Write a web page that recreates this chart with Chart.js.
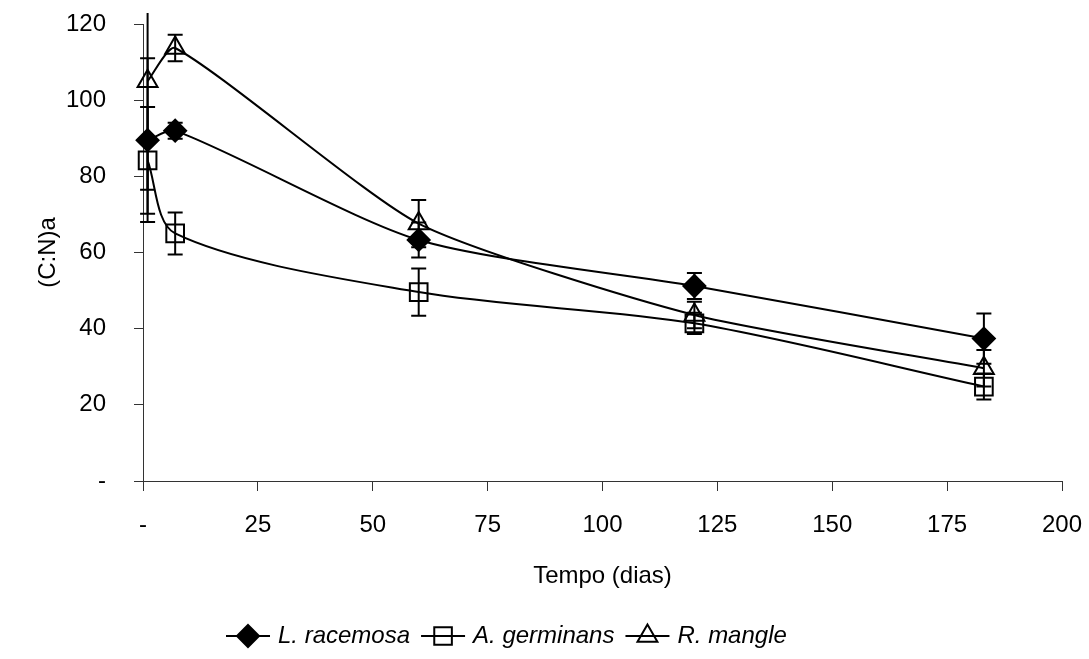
<!DOCTYPE html>
<html>
<head>
<meta charset="utf-8">
<script src="https://cdn.jsdelivr.net/npm/chart.js@4/dist/chart.umd.min.js"></script>
<style>
  html, body { margin: 0; padding: 0; background: #fff; }
  #wrap { width: 1089px; height: 659px; position: relative; }
</style>
</head>
<body>
<div id="wrap"><canvas id="c" width="1089" height="659"></canvas></div>
<script>
// Sampling days and (C:N)a ratios per species, with error half-widths
const days = [1, 7, 60, 120, 183];
const racemosa = [89.5, 92, 63.3, 51.2, 37.4];
const racemosaErr = [21.5, 2.1, 4.6, 3.4, 6.6];
const germinans = [84.2, 65, 49.6, 41.4, 24.8];
const germinansErr = [14, 5.5, 6.2, 2.8, 3.4];
const mangle = [105, 113.7, 67.6, 43.6, 29.6];
const mangleErr = [28.5, 3.5, 6.2, 3.5, 4.8];

const seriesNames = ['L. racemosa', 'A. germinans', 'R. mangle'];
const xTicks = [0, 25, 50, 75, 100, 125, 150, 175, 200];
const yTicks = [0, 20, 40, 60, 80, 100, 120];

const FONT = '"Liberation Sans", Arial, sans-serif';
const AXIS = '#333';

function pts(vals) { return days.map((d, i) => ({ x: d, y: vals[i] })); }

const styles = [
  { pointStyle: 'rectRot', radius: 11, fill: '#000', tension: 0.25 },
  { pointStyle: 'rect', radius: 12.5, fill: 'rgba(0,0,0,0)', tension: 0.3 },
  { pointStyle: 'triangle', radius: 11.5, fill: 'rgba(0,0,0,0)', tension: 0.2 }
];
const values = [racemosa, germinans, mangle];
const errors = [racemosaErr, germinansErr, mangleErr];

const datasets = values.map((v, i) => ({
  label: seriesNames[i],
  data: pts(v),
  errors: errors[i],
  borderColor: '#000',
  borderWidth: 2,
  tension: styles[i].tension,
  fill: false,
  clip: false,
  pointStyle: styles[i].pointStyle,
  pointRadius: styles[i].radius,
  pointHoverRadius: styles[i].radius,
  pointBackgroundColor: styles[i].fill,
  pointBorderColor: '#000',
  pointBorderWidth: 2
}));

// Vertical error bars with caps, drawn from each dataset's own scale values
const errorBars = {
  id: 'errorBars',
  afterDatasetsDraw(chart) {
    const { ctx, chartArea, scales: { x, y } } = chart;
    ctx.save();
    ctx.beginPath();
    ctx.rect(chartArea.left - 20, chartArea.top - 11, chartArea.right - chartArea.left + 40, chartArea.bottom - chartArea.top + 30);
    ctx.clip();
    ctx.strokeStyle = '#000';
    ctx.lineWidth = 2;
    chart.data.datasets.forEach(ds => {
      ds.data.forEach((p, i) => {
        const e = ds.errors[i];
        const px = x.getPixelForValue(p.x);
        const yTop = y.getPixelForValue(p.y + e);
        const yBot = y.getPixelForValue(p.y - e);
        ctx.beginPath();
        ctx.moveTo(px, yTop); ctx.lineTo(px, yBot);
        ctx.moveTo(px - 7.5, yTop); ctx.lineTo(px + 7.5, yTop);
        ctx.moveTo(px - 7.5, yBot); ctx.lineTo(px + 7.5, yBot);
        ctx.stroke();
      });
    });
    ctx.restore();
  }
};

function drawMarker(ctx, style, cx, cy) {
  ctx.beginPath();
  if (style === 'rectRot') {
    const r = 11;
    ctx.moveTo(cx, cy - r); ctx.lineTo(cx + r, cy); ctx.lineTo(cx, cy + r); ctx.lineTo(cx - r, cy);
    ctx.closePath();
    ctx.fillStyle = '#000'; ctx.fill(); ctx.stroke();
  } else if (style === 'rect') {
    const h = 8.8;
    ctx.rect(cx - h, cy - h, 2 * h, 2 * h);
    ctx.stroke();
  } else {
    const r = 11.5;
    ctx.moveTo(cx, cy - r);
    ctx.lineTo(cx + r * Math.cos(Math.PI / 6), cy + r / 2);
    ctx.lineTo(cx - r * Math.cos(Math.PI / 6), cy + r / 2);
    ctx.closePath();
    ctx.stroke();
  }
}

// Legend row under the axis title: line + marker, then italic species name
const legendRow = {
  id: 'legendRow',
  afterDraw(chart) {
    const ctx = chart.ctx;
    ctx.save();
    ctx.font = 'italic 24px ' + FONT;
    ctx.textBaseline = 'middle';
    ctx.textAlign = 'left';
    ctx.strokeStyle = '#000';
    ctx.fillStyle = '#000';
    ctx.lineWidth = 2;
    const yRow = 636;
    let xPos = 226;
    chart.data.datasets.forEach((ds, i) => {
      ctx.beginPath();
      ctx.moveTo(xPos, yRow); ctx.lineTo(xPos + 44, yRow);
      ctx.stroke();
      drawMarker(ctx, styles[i].pointStyle, xPos + 22, yRow);
      ctx.fillStyle = '#000';
      const tx = xPos + 52;
      ctx.fillText(ds.label, tx, yRow);
      xPos = tx + ctx.measureText(ds.label).width + 11;
    });
    ctx.restore();
  }
};

const tickFont = { family: FONT, size: 24 };

new Chart(document.getElementById('c'), {
  type: 'line',
  data: { datasets },
  plugins: [errorBars, legendRow],
  options: {
    responsive: false,
    animation: false,
    events: [],
    layout: { padding: { top: 24, right: 27, left: 0, bottom: 0 } },
    plugins: { legend: { display: false }, tooltip: { enabled: false } },
    scales: {
      x: {
        type: 'linear',
        min: 0, max: 200,
        afterBuildTicks(s) { s.ticks = xTicks.map(v => ({ value: v })); },
        afterFit(s) { s.height = 178; s.paddingLeft = 0; s.paddingRight = 0; },
        ticks: {
          color: '#000', font: tickFont, padding: 20, maxRotation: 0,
          callback: v => (v === 0 ? '-' : String(v))
        },
        grid: { drawOnChartArea: false, drawTicks: true, tickLength: 10, color: AXIS, lineWidth: 1 },
        border: { display: true, color: AXIS, width: 1 },
        title: {
          display: true, text: 'Tempo (dias)', color: '#000',
          font: { family: FONT, size: 24 }, padding: { top: 0, bottom: 68 }
        }
      },
      y: {
        type: 'linear',
        min: 0, max: 120,
        afterBuildTicks(s) { s.ticks = yTicks.map(v => ({ value: v })); },
        afterFit(s) { s.width = 143; s.paddingTop = 0; s.paddingBottom = 0; },
        ticks: {
          color: '#000', font: tickFont, padding: 28,
          callback: v => (v === 0 ? '-' : String(v))
        },
        grid: { drawOnChartArea: false, drawTicks: true, tickLength: 9, color: AXIS, lineWidth: 1 },
        border: { display: true, color: AXIS, width: 1 },
        title: {
          display: true, text: '(C:N)a', color: '#000',
          font: { family: FONT, size: 24 }, padding: { top: 34, bottom: 0 }
        }
      }
    }
  }
});
</script>
</body>
</html>
